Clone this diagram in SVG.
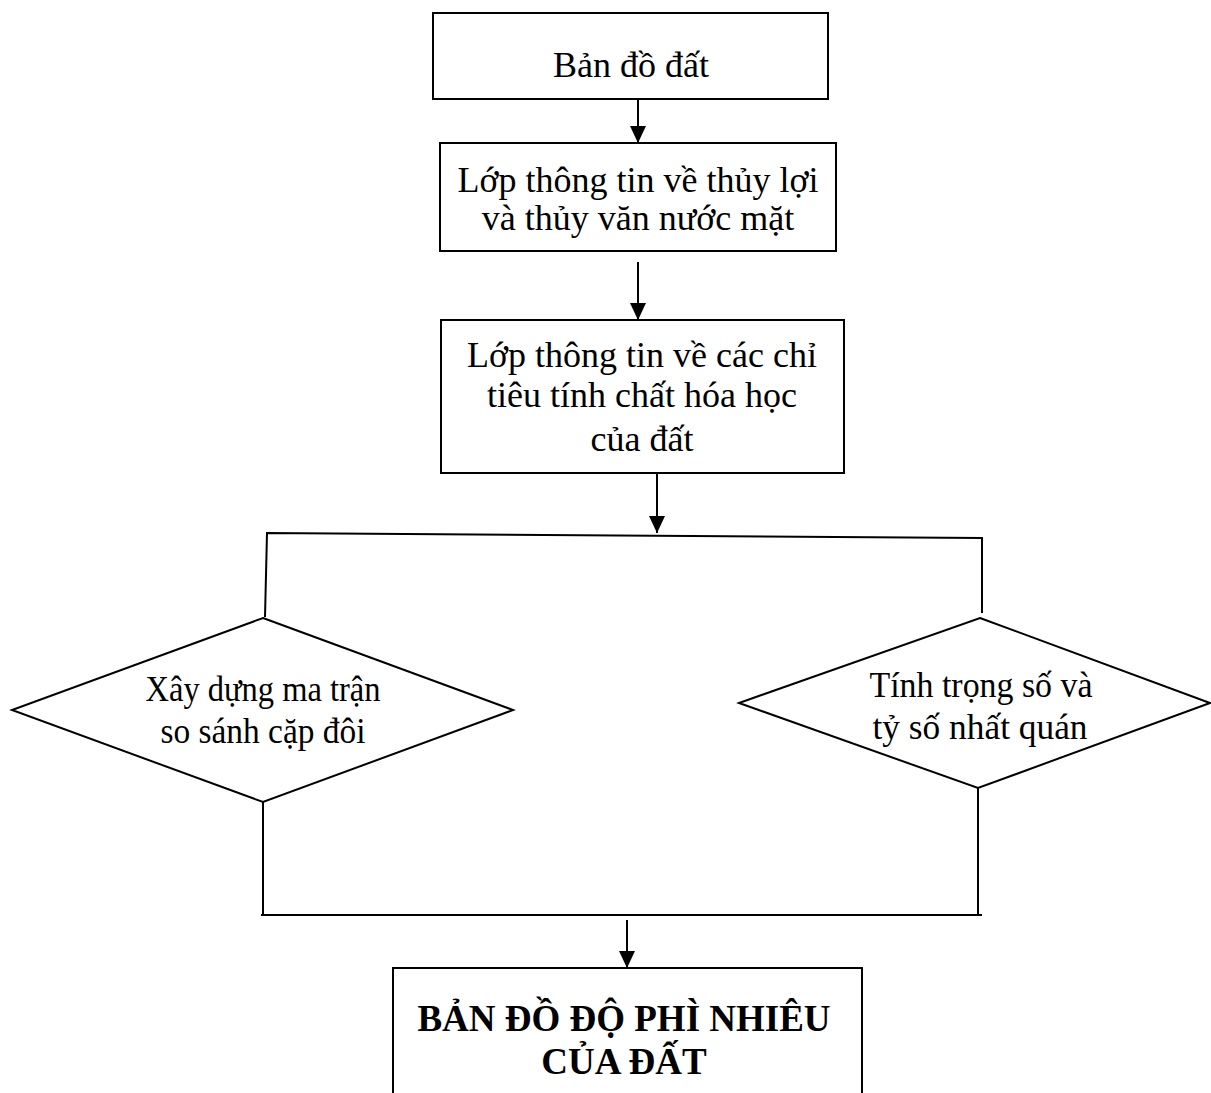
<svg xmlns="http://www.w3.org/2000/svg" width="1211" height="1093" viewBox="0 0 1211 1093">
<style>
.box{fill:#fff;stroke:#000;stroke-width:2}
.dia{fill:#fff;stroke:#000;stroke-width:2}
.ln{fill:none;stroke:#000;stroke-width:2}
.ah{fill:#000}
.t{font-family:"Liberation Serif","Times New Roman",serif;font-size:36px;fill:#000;text-anchor:middle}
.b{font-weight:bold;font-size:37px}
</style>
<rect width="1211" height="1093" fill="#fff"/>
<g id="connectors">
<line class="ln" x1="638" y1="99" x2="638" y2="143"/>
<path class="ah" d="M630,126 L646,126 L638,143 Z"/>
<line class="ln" x1="638" y1="262" x2="638" y2="320"/>
<path class="ah" d="M630,303 L646,303 L638,320 Z"/>
<line class="ln" x1="657" y1="473" x2="657" y2="533"/>
<path class="ah" d="M649,516 L665,516 L657,533 Z"/>
<polyline class="ln" points="265,617 267,533 982,538 982,613"/>
<polyline class="ln" points="263,802 263,915"/>
<polyline class="ln" points="978,788 978,915"/>
<line class="ln" x1="261" y1="915" x2="982" y2="915"/>
<line class="ln" x1="627" y1="920" x2="627" y2="968"/>
<path class="ah" d="M619,951 L635,951 L627,968 Z"/>
</g>
<g id="n1">
<rect class="box" x="433" y="13" width="395" height="86"/>
<text class="t" x="631" y="77">Bản đồ đất</text>
</g>
<g id="n2">
<rect class="box" x="440" y="143" width="396" height="108"/>
<text class="t" x="638" y="192">Lớp thông tin về thủy lợi</text>
<text class="t" x="638" y="230">và thủy văn nước mặt</text>
</g>
<g id="n3">
<rect class="box" x="441" y="320" width="403" height="153"/>
<text class="t" x="642" y="367">Lớp thông tin về các chỉ</text>
<text class="t" x="642" y="407">tiêu tính chất hóa học</text>
<text class="t" x="642" y="451">của đất</text>
</g>
<g id="n4">
<polygon class="dia" points="263,618 513,710 263,802 12,710"/>
<text class="t" x="263" y="701" textLength="235" lengthAdjust="spacingAndGlyphs">Xây dựng ma trận</text>
<text class="t" x="263" y="743" textLength="205" lengthAdjust="spacingAndGlyphs">so sánh cặp đôi</text>
</g>
<g id="n5">
<polygon class="dia" points="980,618 1210,703 978,788 739,703"/>
<text class="t" x="981" y="697" textLength="223" lengthAdjust="spacingAndGlyphs">Tính trọng số và</text>
<text class="t" x="980" y="739" textLength="215" lengthAdjust="spacingAndGlyphs">tỷ số nhất quán</text>
</g>
<g id="n6">
<rect class="box" x="393" y="968" width="469" height="140"/>
<text class="t b" x="624" y="1031">BẢN ĐỒ ĐỘ PHÌ NHIÊU</text>
<text class="t b" x="624" y="1074">CỦA ĐẤT</text>
</g>
</svg>
